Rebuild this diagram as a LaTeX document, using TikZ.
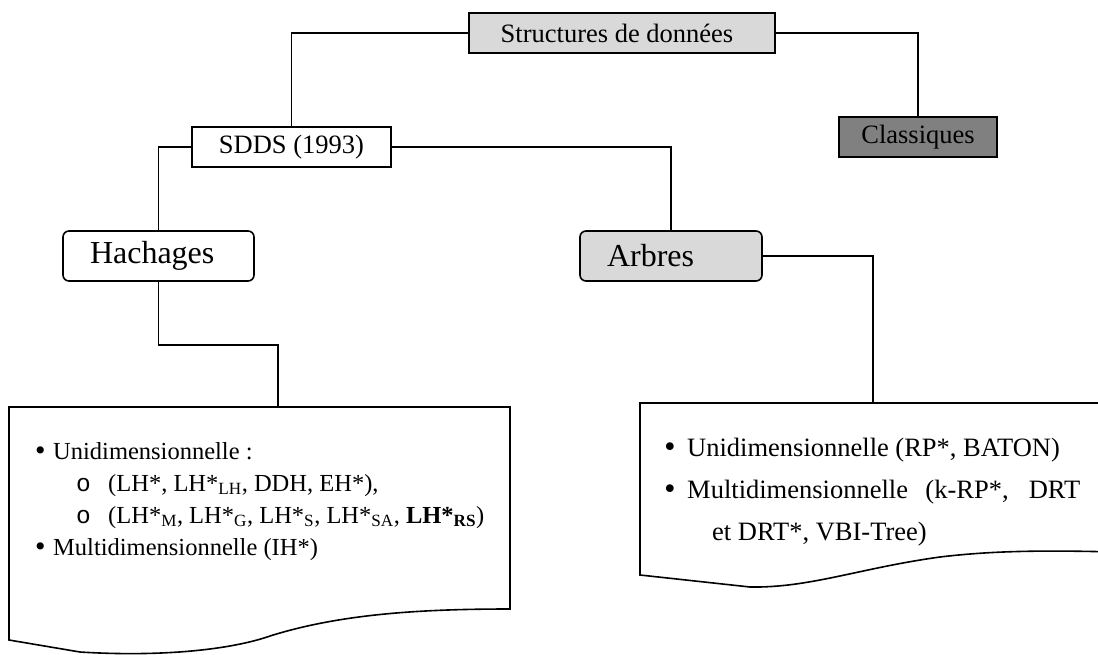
\documentclass[tikz,border=0pt]{standalone}
\usepackage{fontspec}
\setmainfont{Liberation Serif}
\newfontfamily\markfont{Liberation Mono}
\newfontfamily\dotfont{DejaVu Sans}
\definecolor{lightfill}{HTML}{D9D9D9}
\definecolor{darkfill}{HTML}{808080}
\newcommand{\blt}[1]{\makebox[#1][l]{\dotfont •}}
\begin{document}
\begin{tikzpicture}[x=1pt,y=-1pt,
  link/.style={line width=1.6pt},
  sqbox/.style={draw,line width=1.6pt,inner sep=0pt,minimum height=40pt,
    font=\fontsize{26.5}{30}\selectfont},
  rndbox/.style={draw,line width=1.6pt,rounded corners=6pt,inner ysep=0pt,
    inner xsep=27pt,minimum height=50pt,align=left,
    font=\fontsize{32}{36}\selectfont},
  docbox/.style={draw,line width=1.6pt,fill=white},
  item/.style={anchor=base west,inner sep=0pt,font=\fontsize{24.5}{28}\selectfont},
  bigitem/.style={item,font=\fontsize{26.5}{30}\selectfont}]
\useasboundingbox (0,0) rectangle (1098,654);
\clip (0,0) rectangle (1098,654);

% top level
\node[sqbox,fill=lightfill,minimum width=306pt] (sd) at (622,33) {\hspace*{-10pt}Structures de données};
\node[sqbox,minimum width=199pt] (sdds) at (291.5,147) {SDDS (1993)};
\node[sqbox,fill=darkfill,minimum width=158pt] (cl) at (918,137) {Classiques};

% second level
\node[rndbox,text width=137pt] (hach) at (158.5,256) {Hachages};
\node[rndbox,fill=lightfill,text width=128pt] (arb) at (671,256) {Arbres};

% document shapes with wavy bottoms
\coordinate (ltop) at (278,407);
\coordinate (rtop) at (873,403);
\draw[docbox] (9,407) -- (510,407) -- (510,609)
  .. controls (420,609) and (340,614) .. (270,636)
  .. controls (230,650) and (160,657) .. (80,652) -- (9,640) -- cycle;
\draw[docbox] (640,403) -- (1115,403) -- (1115,552)
  .. controls (1040,550) and (990,551) .. (940,557)
  .. controls (860,568) and (810,588) .. (750,587) -- (640,575) -- cycle;

% connectors
\draw[link] (sd.west) -| (sdds.north);
\draw[link] (sd.east) -| (cl.north);
\draw[link] (sdds.west) -| (hach.north);
\draw[link] (sdds.east) -| (arb.north);
\draw[link] (hach.south) -- ++(0,63) -| (ltop);
\draw[link] (arb.east) -| (rtop);

% left list
\node[item] (l1) at (33,459) {\blt{20pt}Unidimensionnelle :};
\node[item] (l2) at (76,491) {\makebox[32pt][l]{\markfont o}(LH*, LH*\textsubscript{LH}, DDH, EH*),};
\node[item] (l3) at (76,523) {\makebox[32pt][l]{\markfont o}(LH*\textsubscript{M}, LH*\textsubscript{G}, LH*\textsubscript{S}, LH*\textsubscript{SA}, \textbf{LH*\textsubscript{RS}})};
\node[item] (l4) at (33,555) {\blt{20pt}Multidimensionnelle (IH*)};

% right list
\node[bigitem] (r1) at (662,456) {\blt{25pt}Unidimensionnelle (RP*, BATON)};
\node[bigitem] (r2) at (662,498) {\blt{25pt}\makebox[393pt][s]{Multidimensionnelle (k-RP*, DRT}};
\node[bigitem] (r3) at (712,540) {et DRT*, VBI-Tree)};
\end{tikzpicture}
\end{document}
